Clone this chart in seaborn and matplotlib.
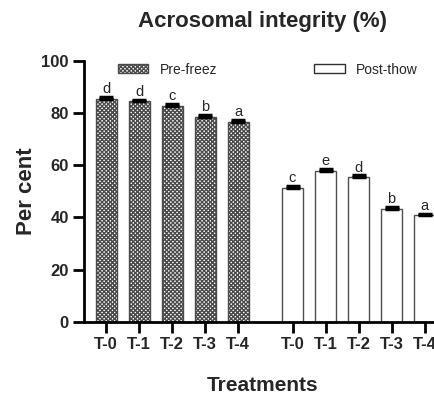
import matplotlib
matplotlib.use("Agg")
import matplotlib.pyplot as plt
import seaborn as sns
import pandas as pd
from matplotlib.patches import Patch

treatments = ["T-0", "T-1", "T-2", "T-3", "T-4"]
pre_freez = [85.4, 84.5, 82.8, 78.6, 76.7]
post_thow = [51.4, 57.9, 55.5, 43.4, 40.8]
pre_err = [0.6, 0.6, 0.6, 0.6, 0.6]
post_err = [0.6, 0.6, 0.6, 0.6, 0.6]
pre_letters = ["d", "d", "c", "b", "a"]
post_letters = ["c", "e", "d", "b", "a"]
groups = ["Pre-freez", "Post-thow"]

sns.set_theme(style="white")
plt.rcParams['font.family'] = ['Liberation Sans', 'DejaVu Sans']
plt.rcParams['hatch.linewidth'] = 1.0

gap = 5.65
pos_pre = list(range(len(treatments)))
pos_post = [p + gap for p in pos_pre]

df = pd.DataFrame({
    "pos": pos_pre + pos_post,
    "value": pre_freez + post_thow,
    "group": [groups[0]] * len(pre_freez) + [groups[1]] * len(post_thow),
})

fig = plt.figure(figsize=(4.35, 3.98), dpi=100)
ax = fig.add_axes([84 / 435, 76 / 398, (441 - 84) / 435, (337.3 - 76) / 398])

sns.barplot(data=df, x="pos", y="value", hue="group", native_scale=True,
            width=0.64, dodge=False, errorbar=None, legend=False,
            palette={groups[0]: "white", groups[1]: "white"}, ax=ax)

HATCH = "x" * 8
n = len(pre_freez)
for i, patch in enumerate(ax.patches):
    if i < n:
        patch.set_hatch(HATCH)
        patch.set_edgecolor("#4a4a4a")
        patch.set_linewidth(1.0)
        patch.set_facecolor("white")
    else:
        patch.set_edgecolor("#505050")
        patch.set_linewidth(1.0)

ax.errorbar(pos_pre, pre_freez, yerr=[[0] * n, pre_err], fmt="none",
            ecolor="black", elinewidth=2.5, capsize=5, capthick=2.5)
ax.errorbar(pos_post, post_thow, yerr=[[0] * n, post_err], fmt="none",
            ecolor="black", elinewidth=2.5, capsize=5, capthick=2.5)

for p, v, e, l in zip(pos_pre, pre_freez, pre_err, pre_letters):
    ax.text(p, v + e + 0.3, l, ha="center", va="bottom", fontsize=10.5)
for p, v, e, l in zip(pos_post, post_thow, post_err, post_letters):
    ax.text(p, v + e + 0.3, l, ha="center", va="bottom", fontsize=10.5)

ax.set_xlim(-0.67, 10.15)
ax.set_ylim(0, 100)
ax.set_yticks([0, 20, 40, 60, 80, 100])
ax.set_xticks(pos_pre + pos_post)
ax.set_xticklabels(treatments + treatments)

for s in ["top", "right"]:
    ax.spines[s].set_visible(False)
for s in ["left", "bottom"]:
    ax.spines[s].set_linewidth(2.0)
    ax.spines[s].set_color("black")

ax.tick_params(axis="both", direction="out", length=8, width=2.0, color="black",
               labelsize=12, pad=3, bottom=True, left=True)
for lab in ax.get_xticklabels() + ax.get_yticklabels():
    lab.set_fontweight("bold")

ax.set_xlabel("Treatments", fontsize=15, fontweight="bold", labelpad=17)
ax.set_ylabel("Per cent", fontsize=16, fontweight="bold", labelpad=3)
ax.set_title("Acrosomal integrity (%)", fontsize=16, fontweight="bold", pad=24)

h1 = Patch(facecolor="white", edgecolor="#4a4a4a", hatch=HATCH, linewidth=1.0)
h2 = Patch(facecolor="white", edgecolor="#303030", linewidth=1.0)
leg1 = ax.legend([h1], [groups[0]], loc="upper left", bbox_to_anchor=(0.06, 1.04),
                 frameon=False, fontsize=10, handlelength=2.2, handleheight=0.6)
ax.add_artist(leg1)
ax.legend([h2], [groups[1]], loc="upper left", bbox_to_anchor=(0.61, 1.04),
          frameon=False, fontsize=10, handlelength=2.2, handleheight=0.6)

fig.savefig("out.png", dpi=100)
